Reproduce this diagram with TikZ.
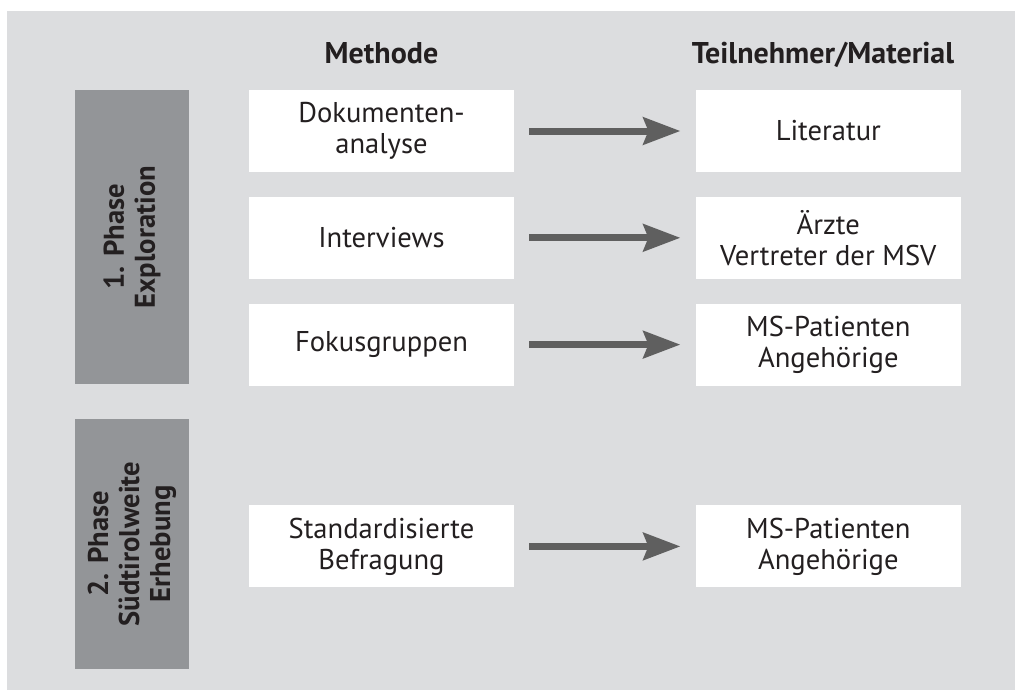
\documentclass[tikz,border=0pt]{standalone}
\usepackage{fontspec}
\setmainfont{PT Sans}
\usetikzlibrary{arrows.meta, positioning}
\definecolor{bggray}{HTML}{DCDDDF}
\definecolor{phasegray}{HTML}{939598}
\definecolor{arrowgray}{HTML}{5F5F5F}
\definecolor{textblack}{HTML}{231F20}

\begin{document}
\begin{tikzpicture}[
    node distance=12pt and 90.5pt,
    box/.style={rectangle, fill=white, minimum width=132.5pt, minimum height=41pt, inner sep=0pt, align=center, font=\fontsize{14.3}{15.5}\selectfont, text=textblack},
    phase/.style={rectangle, fill=phasegray, rotate=90, minimum height=57pt, inner sep=0pt, align=center, font=\fontsize{14.3}{15.5}\selectfont\bfseries, text=textblack},
    head/.style={anchor=base, font=\fontsize{15}{16}\selectfont\bfseries, text=textblack},
    arrow/.style={-{Stealth[length=18.5pt, width=13.5pt, inset=2.5pt]}, line width=3.5pt, draw=arrowgray, shorten <=7.5pt, shorten >=7.5pt}
]

% Hintergrund
\useasboundingbox (0,0) rectangle (507.5pt,-345.5pt);
\fill[bggray] (3.5pt,-5.5pt) rectangle (507.5pt,-345pt);

% Spaltenkoepfe
\node[head] (methode) at (190.75pt,-31.5pt) {Methode};
\node[head] (material) at (411.5pt,-31.5pt) {Teilnehmer/Material};

% Phasen
\node[phase, minimum width=147pt] (phase1) at (66pt,-118.5pt) {1. Phase\\Exploration};
\node[phase, minimum width=125pt] (phase2) at (66pt,-272pt) {2. Phase\\Südtirolweite\\Erhebung};

% Methoden
\node[box] (doku) at (190.75pt,-65.5pt) {Dokumenten-\\analyse};
\node[box, below=of doku] (interviews) {Interviews};
\node[box, below=of interviews] (fokus) {Fokusgruppen};
\node[box, below=59.5pt of fokus] (befragung) {Standardisierte\\Befragung};

% Teilnehmer/Material
\node[box, right=of doku] (literatur) {Literatur};
\node[box, right=of interviews] (aerzte) {Ärzte\\Vertreter der MSV};
\node[box, right=of fokus] (patienten1) {MS-Patienten\\Angehörige};
\node[box, right=of befragung] (patienten2) {MS-Patienten\\Angehörige};

% Pfeile
\draw[arrow] (doku) -- (literatur);
\draw[arrow] (interviews) -- (aerzte);
\draw[arrow] (fokus) -- (patienten1);
\draw[arrow] (befragung) -- (patienten2);

\end{tikzpicture}
\end{document}
